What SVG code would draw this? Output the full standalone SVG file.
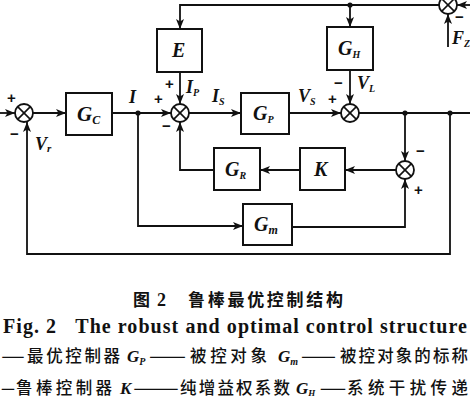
<svg xmlns="http://www.w3.org/2000/svg" width="470" height="400" viewBox="0 0 470 400">
<style>
.ln{fill:none;stroke:#111;stroke-width:1.8}
.box{fill:#fff;stroke:#111;stroke-width:2}
.sum{fill:#fff;stroke:#111;stroke-width:1.8}
.lbl{font-family:"Liberation Serif",serif;font-style:italic;font-weight:bold;fill:#111}
.sg{font-family:"Liberation Sans",sans-serif;font-weight:bold;fill:#111;font-size:15px}
.cj{font-family:"Noto Sans CJK SC",sans-serif;fill:#111;font-size:16.5px;font-weight:500}
</style>
<defs>
<marker id="ar" viewBox="0 0 10 8" refX="10" refY="4" markerWidth="10" markerHeight="8" markerUnits="userSpaceOnUse" orient="auto">
<path d="M0,0 L10,4 L0,8 L2.5,4 Z" fill="#111"/>
</marker>
<g id="x"><line x1="-6.4" y1="-6.4" x2="6.4" y2="6.4" stroke="#111" stroke-width="1.6"/><line x1="-6.4" y1="6.4" x2="6.4" y2="-6.4" stroke="#111" stroke-width="1.6"/></g>
</defs>
<g id="connectors">
<line class="ln" x1="0" y1="113" x2="15" y2="113" marker-end="url(#ar)"/>
<line class="ln" x1="33" y1="113" x2="66" y2="113" marker-end="url(#ar)"/>
<line class="ln" x1="112" y1="113" x2="171" y2="113" marker-end="url(#ar)"/>
<line class="ln" x1="189" y1="113" x2="241" y2="113" marker-end="url(#ar)"/>
<line class="ln" x1="289" y1="113" x2="341" y2="113" marker-end="url(#ar)"/>
<line class="ln" x1="359" y1="113" x2="470" y2="113"/>
<polyline class="ln" points="448,5 180,5 180,29" marker-end="url(#ar)"/>
<line class="ln" x1="470" y1="5" x2="457" y2="5" marker-end="url(#ar)"/>
<line class="ln" x1="448" y1="47" x2="448" y2="14" marker-end="url(#ar)"/>
<line class="ln" x1="350" y1="5" x2="350" y2="27" marker-end="url(#ar)"/>
<line class="ln" x1="180" y1="72" x2="180" y2="104" marker-end="url(#ar)"/>
<line class="ln" x1="350" y1="70" x2="350" y2="104" marker-end="url(#ar)"/>
<line class="ln" x1="405" y1="113" x2="405" y2="161" marker-end="url(#ar)"/>
<line class="ln" x1="396" y1="170" x2="345" y2="170" marker-end="url(#ar)"/>
<line class="ln" x1="300" y1="170" x2="260" y2="170" marker-end="url(#ar)"/>
<polyline class="ln" points="214,170 180,170 180,122" marker-end="url(#ar)"/>
<polyline class="ln" points="138,113 138,226 243,226" marker-end="url(#ar)"/>
<polyline class="ln" points="292,227 405,227 405,179" marker-end="url(#ar)"/>
<polyline class="ln" points="450,113 450,254 27,254 27,122" marker-end="url(#ar)"/>
<circle cx="138" cy="113" r="2.6" fill="#111"/>
<circle cx="350" cy="5" r="2.6" fill="#111"/>
<circle cx="405" cy="113" r="2.6" fill="#111"/>
<circle cx="450" cy="113" r="2.6" fill="#111"/>
</g>
<g id="sum1"><circle class="sum" cx="24" cy="113" r="9"/><use href="#x" x="24" y="113"/></g>
<g id="sum2"><circle class="sum" cx="180" cy="113" r="9"/><use href="#x" x="180" y="113"/></g>
<g id="sum3"><circle class="sum" cx="350" cy="113" r="9"/><use href="#x" x="350" y="113"/></g>
<g id="sum4"><circle class="sum" cx="405" cy="170" r="9"/><use href="#x" x="405" y="170"/></g>
<g id="sum5"><circle class="sum" cx="448" cy="5" r="9"/><use href="#x" x="448" y="5"/></g>
<g id="Gc"><rect class="box" x="66" y="93" width="46" height="42"/><text class="lbl" x="77" y="121" font-size="21">G<tspan font-size="12" dy="3">C</tspan></text></g>
<g id="E"><rect class="box" x="157" y="29" width="45" height="43"/><text class="lbl" x="172" y="57" font-size="20">E</text></g>
<g id="GH"><rect class="box" x="327" y="27" width="46" height="43"/><text class="lbl" x="338" y="55" font-size="20">G<tspan font-size="10" dy="3">H</tspan></text></g>
<g id="GP"><rect class="box" x="241" y="93" width="48" height="41"/><text class="lbl" x="253" y="120" font-size="20">G<tspan font-size="10" dy="3">P</tspan></text></g>
<g id="GR"><rect class="box" x="214" y="148" width="46" height="42"/><text class="lbl" x="225" y="176" font-size="20">G<tspan font-size="10" dy="3">R</tspan></text></g>
<g id="K"><rect class="box" x="300" y="148" width="45" height="42"/><text class="lbl" x="314" y="176" font-size="20">K</text></g>
<g id="Gm"><rect class="box" x="243" y="204" width="49" height="41"/><text class="lbl" x="254" y="231" font-size="20">G<tspan font-size="12" dy="3">m</tspan></text></g>
<g id="labels">
<text class="sg" x="7" y="103">+</text>
<text class="sg" x="10" y="139">−</text>
<text class="lbl" x="35" y="150" font-size="18">V<tspan font-size="11" dy="2">r</tspan></text>
<text class="lbl" x="129" y="103" font-size="18">I</text>
<text class="sg" x="154" y="104">+</text>
<text class="sg" x="165" y="89">+</text>
<text class="lbl" x="186" y="93" font-size="18">I<tspan font-size="10" dy="3">P</tspan></text>
<text class="sg" x="162" y="131">−</text>
<text class="lbl" x="212" y="102" font-size="18">I<tspan font-size="10" dy="3">S</tspan></text>
<text class="lbl" x="298" y="102" font-size="18">V<tspan font-size="10" dy="3">S</tspan></text>
<text class="sg" x="328" y="104">+</text>
<text class="sg" x="334" y="88">−</text>
<text class="lbl" x="357" y="89" font-size="18">V<tspan font-size="10" dy="3">L</tspan></text>
<text class="sg" x="416" y="156">−</text>
<text class="sg" x="414" y="195">+</text>
<text class="sg" x="455" y="22">−</text>
<text class="lbl" x="452" y="44" font-size="18">F<tspan font-size="10" dy="3">Z</tspan></text>
</g>
<g id="caption">
<text x="133" y="306" style="font-family:'Noto Sans CJK SC',sans-serif;font-weight:bold;font-size:17px;fill:#111">图</text>
<text x="157" y="306" style="font-family:'Liberation Serif',serif;font-weight:bold;font-size:18px;fill:#111">2</text>
<text x="188" y="306" textLength="155" style="font-family:'Noto Sans CJK SC',sans-serif;font-weight:bold;font-size:17px;fill:#111">鲁棒最优控制结构</text>
<text x="3" y="333" textLength="464" lengthAdjust="spacing" style="font-family:'Liberation Serif',serif;font-weight:bold;font-size:20px;fill:#111">Fig. 2&#160;&#160;&#160;The robust and optimal control structure</text>
<text class="cj" x="1" y="362" textLength="24" lengthAdjust="spacingAndGlyphs">—</text>
<text class="cj" x="27" y="362" textLength="93">最优控制器</text>
<text class="lbl" x="127" y="362" font-size="17" font-weight="normal">G<tspan font-size="10" dy="3">P</tspan></text>
<text class="cj" x="149" y="362" textLength="37" lengthAdjust="spacingAndGlyphs">——</text>
<text class="cj" x="190" y="362" textLength="77">被控对象</text>
<text class="lbl" x="278" y="362" font-size="17" font-weight="normal">G<tspan font-size="10" dy="3">m</tspan></text>
<text class="cj" x="301" y="362" textLength="35" lengthAdjust="spacingAndGlyphs">——</text>
<text class="cj" x="340" y="362" textLength="128">被控对象的标称</text>
<text class="cj" x="1" y="394" textLength="14" lengthAdjust="spacingAndGlyphs">—</text>
<text class="cj" x="16" y="394" textLength="96">鲁棒控制器</text>
<text class="lbl" x="120" y="394" font-size="17" font-weight="normal">K</text>
<text class="cj" x="133" y="394" textLength="46" lengthAdjust="spacingAndGlyphs">——</text>
<text class="cj" x="180" y="394" textLength="110">纯增益权系数</text>
<text class="lbl" x="296" y="394" font-size="17" font-weight="normal">G<tspan font-size="9" dy="2">H</tspan></text>
<text class="cj" x="320" y="394" textLength="26" lengthAdjust="spacingAndGlyphs">——</text>
<text class="cj" x="347" y="394" textLength="121">系统干扰传递</text>
</g>
</svg>
